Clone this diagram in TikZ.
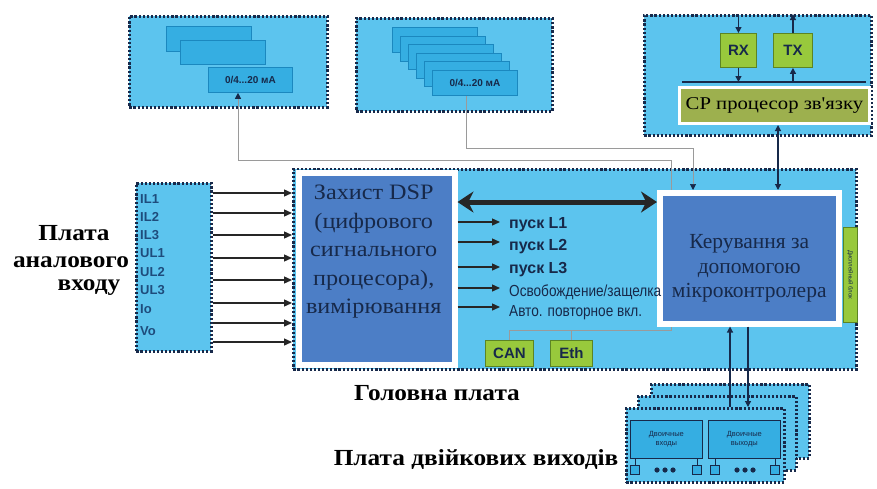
\documentclass[tikz,border=0pt]{standalone}
\usepackage{fontspec}
\setmainfont{Liberation Serif}
\newfontfamily\sansfont{Liberation Sans}
\newfontfamily\narrowfont[FakeStretch=0.85]{Liberation Sans}
\newfontfamily\wideserif[FakeStretch=1.1]{Liberation Serif}
\newfontfamily\cpfont[FakeStretch=1.15]{Liberation Serif}
\usetikzlibrary{arrows.meta}

\definecolor{skyfill}{HTML}{5CC4EE}
\definecolor{chipfill}{HTML}{35AEE2}
\definecolor{chipedge}{HTML}{1B88BF}
\definecolor{inkblue}{HTML}{17294A}
\definecolor{steelfill}{HTML}{4C7EC6}
\definecolor{leaffill}{HTML}{98C93C}
\definecolor{leafedge}{HTML}{5C8424}
\definecolor{olivefill}{HTML}{9DB04E}
\definecolor{wiregrey}{HTML}{9A9A9A}
\definecolor{labelblue}{HTML}{1E4C7C}

\begin{document}
\begin{tikzpicture}[x=1pt,y=-1pt,
  every node/.style={inner sep=0pt},
  board/.style={draw=inkblue, fill=skyfill, line width=2.6pt,
    dash pattern=on 2.2pt off 1.9pt, anchor=north west},
  chip/.style={draw=chipedge, fill=chipfill, line width=0.8pt, anchor=north west,
    font=\sansfont\bfseries\fontsize{10}{10}\selectfont, text=inkblue},
  core/.style={draw=white, fill=steelfill, line width=5.5pt, anchor=north west},
  coretext/.style={text=inkblue, align=center},
  greenbox/.style={draw=leafedge, fill=leaffill, line width=0.9pt, anchor=north west,
    font=\sansfont\bfseries\fontsize{15}{15}\selectfont, text=inkblue},
  title/.style={font=\wideserif\bfseries\fontsize{23}{23}\selectfont, text=black},
  chanlab/.style={anchor=west, font=\sansfont\bfseries\fontsize{13}{13}\selectfont, text=labelblue},
  boldlab/.style={anchor=west, inner xsep=9pt, font=\sansfont\bfseries\fontsize{16}{16}\selectfont, text=inkblue},
  thinlab/.style={anchor=west, inner xsep=9pt, font=\narrowfont\fontsize{16}{16}\selectfont, text=inkblue},
  sig/.style={draw=inkblue, line width=1.2pt},
  tip/.style={-{Triangle[length=6pt,width=6pt]}},
  inarrow/.style={draw=black!85, line width=1.3pt, -{Triangle[length=8pt,width=7pt]}},
  wire/.style={draw=wiregrey, line width=0.7pt},
  tinybox/.style={draw=inkblue, fill=chipfill, line width=0.7pt, anchor=north west,
    font=\sansfont\fontsize{7.5}{8.5}\selectfont, text=inkblue, align=center},
  pad/.style={draw=inkblue, fill=chipfill, line width=0.6pt, anchor=north west,
    minimum width=9pt, minimum height=9pt}
]
\useasboundingbox (0,0) rectangle (877,488);
\fill[white] (0,0) rectangle (877,488);

% ---------- analog output board 1 ----------
\node[board, minimum width=198pt, minimum height=91pt] (ao1) at (128,15) {};
\node[chip, minimum width=85pt, minimum height=25pt] (c11) at (166,26) {};
\node[chip, minimum width=85pt, minimum height=24pt] (c12) at (180,40) {};
\node[chip, minimum width=84pt, minimum height=25pt] (c13) at (208,67) {0/4...20 мА};

% ---------- analog output board 2 ----------
\node[board, minimum width=196pt, minimum height=93pt] (ao2) at (355,17) {};
\foreach \i in {0,...,4}
  \node[chip, minimum width=85pt, minimum height=25pt] (c2\i) at (392+8*\i,27+8.6*\i) {};
\node[chip, minimum width=85pt, minimum height=25pt] (c25) at (432,70) {0/4...20 мА};

% ---------- communication board ----------
\node[board, minimum width=227pt, minimum height=120pt] (cm) at (643,14) {};
\node[greenbox, minimum width=36pt, minimum height=34pt] (rx) at (720,33) {RX};
\node[greenbox, minimum width=39pt, minimum height=34pt] (tx) at (773,33) {TX};
\coordinate (busw) at (682,82);
\coordinate (buse) at (866,82);
\draw[sig] (busw) -- (buse);
\node[draw=white, fill=olivefill, line width=3pt, anchor=north west,
  minimum width=190pt, minimum height=36pt,
  font=\cpfont\fontsize{18}{18}\selectfont, text=black] (cp) at (678,86) {CP процесор зв'язку};
\draw[sig, tip] (rx.north |- cm.north) -- (rx.north);
\draw[sig, tip] (rx.south) -- (rx.south |- busw);
\draw[sig, tip] (tx.south |- busw) -- (tx.south);
\draw[sig, tip] (tx.north) -- (tx.north |- cm.north);

% ---------- analog input board ----------
\node[board, minimum width=75pt, minimum height=168pt] (ain) at (135,182) {};
\node[chanlab] (il1) at (140,199) {IL1};
\node[chanlab] (il2) at (140,217) {IL2};
\node[chanlab] (il3) at (140,235) {IL3};
\node[chanlab] (ul1) at (140,253) {UL1};
\node[chanlab] (ul2) at (140,272) {UL2};
\node[chanlab] (ul3) at (140,290) {UL3};
\node[chanlab] (io) at (140,309) {Io};
\node[chanlab] (vo) at (140,331) {Vo};

% ---------- main board ----------
\node[board, minimum width=563pt, minimum height=200pt] (mp) at (292,168) {};

% interface wires run behind the processor blocks
\node[greenbox, minimum width=48pt, minimum height=26pt] (can) at (485,340) {CAN};
\node[greenbox, minimum width=42pt, minimum height=26pt] (eth) at (550,340) {Eth};
\coordinate (wa) at (671,160);
\coordinate (wb) at (671,330);
\draw[wire, {Triangle[length=6pt,width=6pt,color=inkblue]}-]
  (c13.south -| 238,0) |- (wa) -- (wb) -| (can.north);
\draw[wire] (eth.north) -- (eth.north |- wb);

\node[core, minimum width=156pt, minimum height=192pt] (dsp) at (296,170) {};
\node[coretext, anchor=north, font=\wideserif\fontsize{22}{28.5}\selectfont] (dspt)
  at ([xshift=-3pt,yshift=-15pt]dsp.north)
  {Захист DSP\\(цифрового\\сигнального\\процесора),\\вимірювання};
\node[core, minimum width=179pt, minimum height=131pt] (mc) at (657,190) {};
\node[coretext, font=\fontsize{21.5}{24.5}\selectfont] (mct)
  at ([yshift=-10pt]mc.center) {Керування за\\допомогою\\мікроконтролера};
\node[draw=leafedge, fill=leaffill, line width=0.6pt, anchor=north west,
  minimum width=14pt, minimum height=95pt] (strip) at (843,227) {};
\node[rotate=-90, font=\sansfont\fontsize{6}{6}\selectfont, text=inkblue] (stript)
  at (strip.center) {Дисплейный блок};

\foreach \y in {193,213,235,258,280,303,323,342}
  \draw[inarrow] (ain.east |- 0,\y) -- (mp.west |- 0,\y);

\draw[draw=black!85, line width=5pt,
  {Stealth[length=16pt,width=21pt]}-{Stealth[length=16pt,width=21pt]}]
  (dsp.east |- 0,202) -- (mc.west |- 0,202);

\node[boldlab] (l1) at (500,225) {пуск L1};
\node[boldlab] (l2) at (500,247) {пуск L2};
\node[boldlab] (l3) at (500,270) {пуск L3};
\node[thinlab] (l4) at (500,292) {Освобождение/защелка};
\node[thinlab] (l5) at (500,313) {Авто. повторное вкл.};
\draw[inarrow] (dsp.east |- 0,222) -- (l1.west |- 0,222);
\draw[inarrow] (dsp.east |- 0,242) -- (l2.west |- 0,242);
\draw[inarrow] (dsp.east |- 0,267) -- (l3.west |- 0,267);
\draw[inarrow] (dsp.east |- 0,288) -- (l4.west |- 0,288);
\draw[inarrow] (dsp.east |- 0,307) -- (l5.west |- 0,307);

% ---------- links into the controller ----------
\coordinate (wc) at (693,148);
\draw[wire, -{Triangle[length=6pt,width=6pt,color=inkblue]}]
  (c25.south -| 466,0) |- (wc) -- (mc.north -| wc);
\draw[sig, {Triangle[length=6pt,width=6pt]}-{Triangle[length=6pt,width=6pt]}]
  (cp.south -| 778,0) -- (mc.north -| 778,0);

% ---------- binary I/O boards ----------
\node[board, minimum width=158pt, minimum height=74pt] (bb3) at (650,383) {};
\node[board, minimum width=158pt, minimum height=74pt] (bb2) at (637,395) {};
\node[board, minimum width=158pt, minimum height=74pt] (bb1) at (625,407) {};
\node[tinybox, minimum width=72pt, minimum height=38pt] (bi) at (630,420) {Двоичные\\входы};
\node[tinybox, minimum width=72pt, minimum height=38pt] (bo) at (708,420) {Двоичные\\выходы};
\node[pad] (s1) at (630,465) {};
\node[pad] (s2) at (692,465) {};
\node[pad] (s3) at (710,465) {};
\node[pad] (s4) at (770,465) {};
\foreach \s in {s1,s2} \draw[inkblue, line width=0.6pt] (\s.north) -- (\s.north |- bi.south);
\foreach \s in {s3,s4} \draw[inkblue, line width=0.6pt] (\s.north) -- (\s.north |- bo.south);
\foreach \x in {657,665,673,737,745,753} \fill[inkblue] (\x,470) circle (2.6pt);

\draw[sig, {Triangle[length=6pt,width=6pt]}-] (mc.south -| 730,0) -- (bb1.north -| 730,0);
\draw[sig, tip] (mc.south -| 748,0) -- (bb1.north -| 748,0);

% ---------- board captions ----------
\node[title] (tin1) at (74,233) {Плата};
\node[title] (tin2) at (71,262) {аналового};
\node[title] (tin3) at (89,288) {входу};
\node[title] (tmain) at (437,393) {Головна плата};
\node[title] (tbin) at (476,460) {Плата двійкових виходів};
\end{tikzpicture}
\end{document}
